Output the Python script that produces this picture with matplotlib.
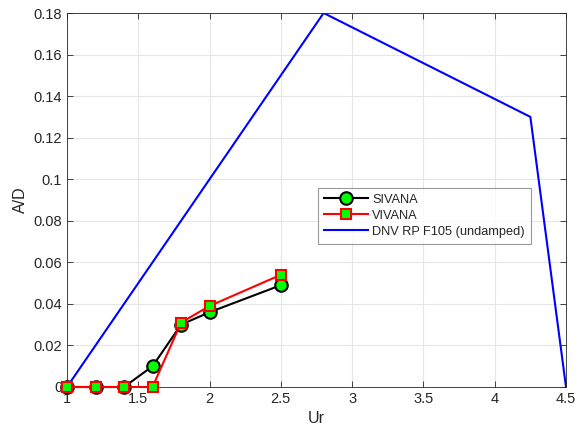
import matplotlib
matplotlib.use("Agg")
import matplotlib.pyplot as plt

ur = [1.0, 1.2, 1.4, 1.6, 1.8, 2.0, 2.5]
sivana = [0.0, 0.0, 0.0, 0.010, 0.030, 0.036, 0.049]
vivana = [0.0, 0.0, 0.0, 0.0, 0.031, 0.039, 0.054]
dnv_x = [1.0, 2.8, 4.25, 4.5]
dnv_y = [0.0, 0.18, 0.13, 0.0]
xticks = [1, 1.5, 2, 2.5, 3, 3.5, 4, 4.5]
xticklabels = ["1", "1.5", "2", "2.5", "3", "3.5", "4", "4.5"]
yticks = [0, 0.02, 0.04, 0.06, 0.08, 0.1, 0.12, 0.14, 0.16, 0.18]
yticklabels = ["0", "0.02", "0.04", "0.06", "0.08", "0.1", "0.12", "0.14", "0.16", "0.18"]

plt.rcParams['font.family'] = ['Liberation Sans', 'DejaVu Sans']

fig = plt.figure(figsize=(5.85, 4.32), dpi=100)
ax = fig.add_axes([67/585, 1-387/432, (566-67)/585, (387-13)/432])

ax.plot(ur, sivana, '-o', color='black', lw=1.5, marker='o', ms=9,
        mfc='#00ff00', mec='black', mew=1.5, label='SIVANA', zorder=3, clip_on=False)
ax.plot(ur, vivana, '-s', color='red', lw=1.5, ms=7,
        mfc='#00ff00', mec='red', mew=1.5, label='VIVANA', zorder=4, clip_on=False)
ax.plot(dnv_x, dnv_y, '-', color='blue', lw=1.5, label='DNV RP F105 (undamped)', zorder=2)

ax.set_xlim(1, 4.5)
ax.set_ylim(0, 0.18)
ax.set_xticks(xticks)
ax.set_xticklabels(xticklabels)
ax.set_yticks(yticks)
ax.set_yticklabels(yticklabels)
ax.grid(True, color='#e6e6e6', lw=0.8)
ax.set_axisbelow(True)
ax.tick_params(direction='in', top=True, right=True, labelsize=10.5, colors='#262626',
               length=4, width=0.6)
for s in ax.spines.values():
    s.set_color('#262626')
    s.set_linewidth(0.6)
ax.set_xlabel('Ur', fontsize=11.5, color='#262626')
ax.set_ylabel('A/D', fontsize=11.5, color='#262626')

leg = ax.legend(loc='upper left', bbox_to_anchor=((318-67)/499, (387-188)/374),
                fontsize=9.2, frameon=True, fancybox=False, edgecolor='#808080',
                borderpad=0.45, labelspacing=0.32, handlelength=3.5, handletextpad=0.3,
                borderaxespad=0)
leg.get_frame().set_linewidth(0.8)
for t in leg.get_texts():
    t.set_color('#262626')

fig.savefig('out.png', dpi=100)
